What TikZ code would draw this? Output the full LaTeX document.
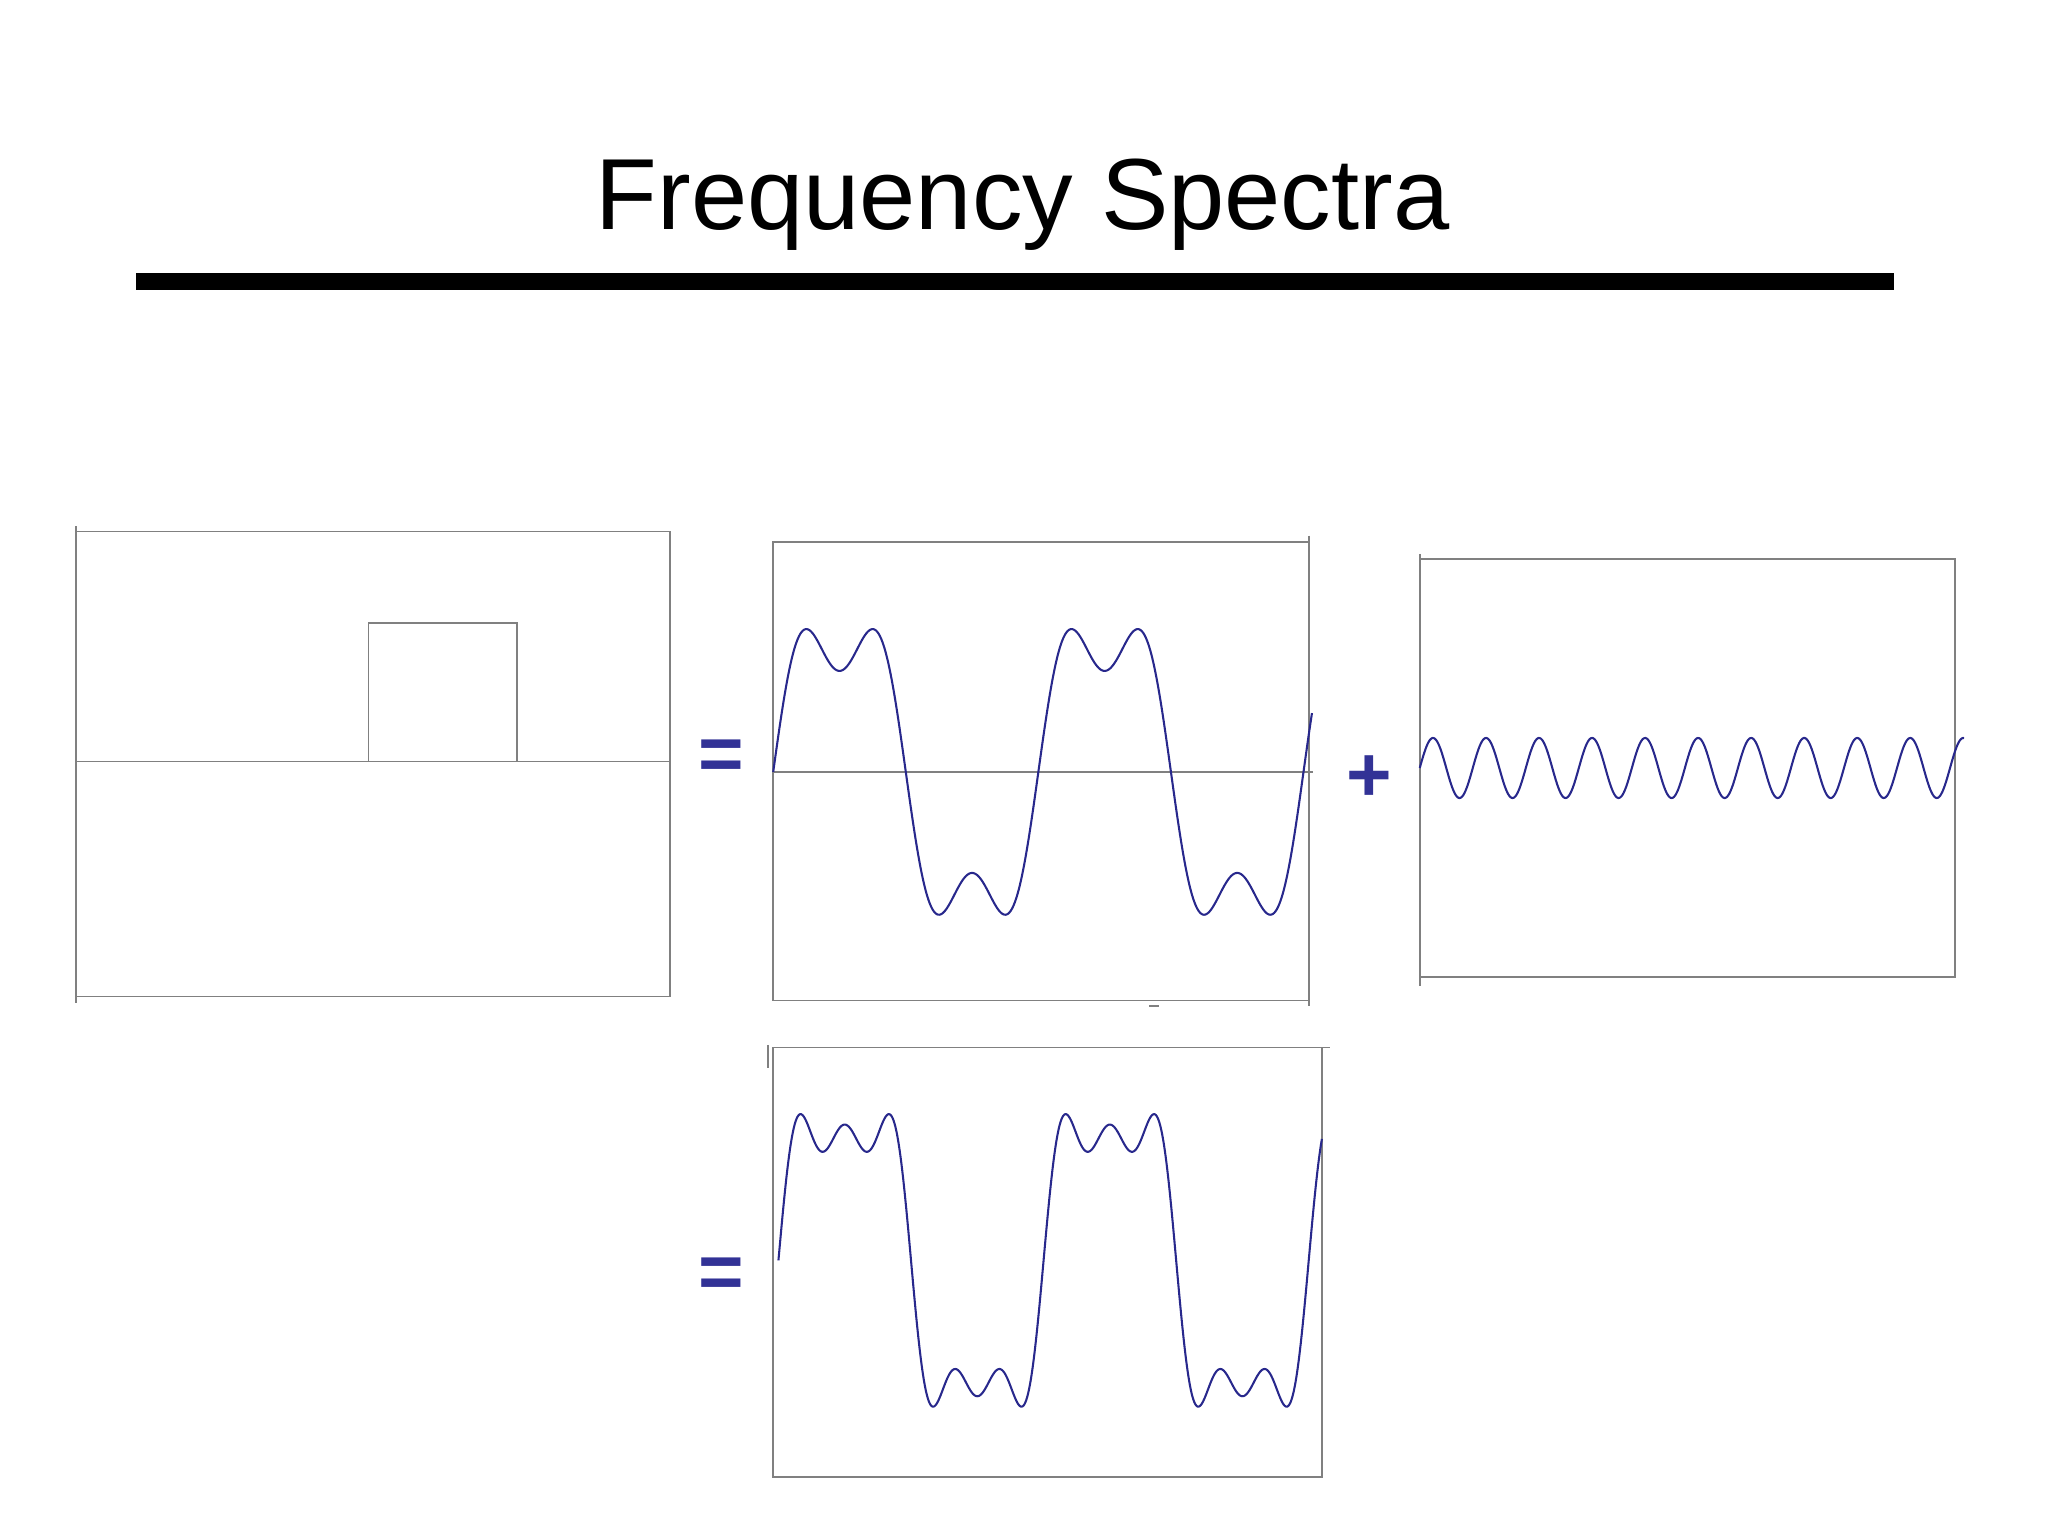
\documentclass[tikz,border=0pt]{standalone}
\usepackage{fontspec}
\setmainfont{Liberation Sans}
\definecolor{wave}{RGB}{40,40,140}
\definecolor{sym}{RGB}{50,50,150}
\begin{document}
\begin{tikzpicture}[x=0.01cm,y=-0.01cm,
  frame/.style={draw=gray,line width=0.35pt},
  wv/.style={draw=wave,line width=0.45pt},
  symb/.style={text=sym,font=\fontsize{17}{20}\selectfont\bfseries}]
\useasboundingbox (0,0) rectangle (1568,1176);
\node (title) at (783,157) {\fontsize{22}{26}\selectfont Frequency Spectra};
\fill (104,209) rectangle (1450,222);
% panel 1
\draw[frame] (58,407) rectangle (513,763);
\draw[frame] (58,403) -- (58,768);
\draw[frame] (58,583) -- (513,583);
\draw[frame] (282,583) -- (282,477) -- (396,477) -- (396,583);
% panel 2
\draw[frame] (592,415) rectangle (1002,766);
\draw[frame] (1002,410) -- (1002,770);
\draw[frame] (592,591) -- (1005,591);
\draw[frame] (880,770) -- (887,770);
\draw[wv] plot[domain=0:12.77,samples=400,smooth] ({592+\x*203/(2*pi)},{591-116*(sin(\x r)+sin(3*\x r)/3)});
% panel 3
\draw[frame] (1087,428) rectangle (1497,748);
\draw[frame] (1087,424) -- (1087,755);
\draw[wv] plot[domain=0:12.9,samples=500,smooth] ({1087+\x*203/(2*pi)},{588-23*sin(5*\x r)});
% panel 4
\draw[frame] (592,802) rectangle (1012,1131);
\draw[frame] (588,800) -- (588,818);
\draw[frame] (1012,802) -- (1018,802);
\draw[wv] plot[domain=0:12.88,samples=600,smooth] ({596+\x*203/(2*pi)},{965-120*(sin(\x r)+sin(3*\x r)/3+sin(5*\x r)/5)});
% symbols
\node[symb] (eq1) at (552,582) {=};
\node[symb] (plus) at (1048,596) {+};
\node[symb] (eq2) at (552,979) {=};
\end{tikzpicture}
\end{document}
